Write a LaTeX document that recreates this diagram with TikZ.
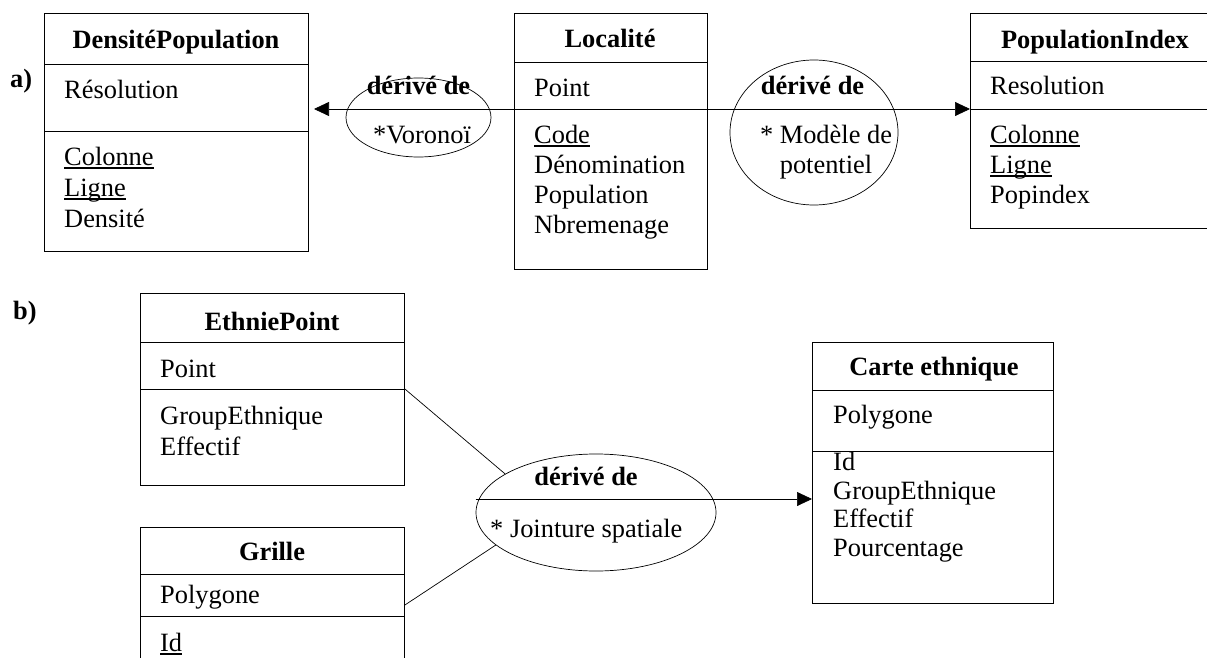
\documentclass[tikz,border=0pt]{standalone}
\usepackage{fontspec}
\setmainfont{Liberation Serif}
\usetikzlibrary{arrows.meta,shapes.geometric}

\newlength{\clewd}
\newcommand{\cle}[1]{\settowidth{\clewd}{#1}\rlap{\rule[-3.5pt]{\clewd}{1.1pt}}#1}

\tikzset{
  classe/.style={draw, line width=0.9pt, rectangle, inner sep=0pt, anchor=north west},
  titre/.style={font=\fontsize{26.4}{30}\selectfont\bfseries, anchor=base, inner sep=0pt},
  attr/.style={anchor=base west, inner sep=0pt, align=left},
  derive/.style={draw, ellipse, line width=0.7pt, inner sep=0pt},
  fleche/.style={-{Triangle[length=15pt,width=14pt]}, line width=0.7pt},
  lien/.style={line width=0.7pt}
}

\begin{document}
\begin{tikzpicture}[x=1pt, y=-1pt, font=\fontsize{26.4}{30}\selectfont]
  \useasboundingbox (0,0) rectangle (1207,658);
  \clip (0,0) rectangle (1207,658);

  % a) derivation from Localite (multi-line nodes sit on their last baseline)
  \node[titre, anchor=base west] (la) at (10,88) {a)};

  \node[classe, minimum width=264pt, minimum height=238pt] (dens) at (44,13) {};
  \draw[lien] ([yshift=-51pt]dens.north west) -- ([yshift=-51pt]dens.north east);
  \draw[lien] ([yshift=-118pt]dens.north west) -- ([yshift=-118pt]dens.north east);
  \node[titre] (dens-t) at (176,49) {DensitéPopulation};
  \node[attr] (dens-a) at (64,99) {Résolution};
  \node[attr, font=\fontsize{26.4}{31}\selectfont] (dens-b) at (64,227) {\cle{Colonne}\\\cle{Ligne}\\Densité};

  \node[classe, minimum width=193pt, minimum height=256pt] (loc) at (514,13) {};
  \draw[lien] ([yshift=-49pt]loc.north west) -- ([yshift=-49pt]loc.north east);
  \draw[lien] ([yshift=-96pt]loc.north west) -- ([yshift=-96pt]loc.north east);
  \node[titre] (loc-t) at (610,48) {Localité};
  \node[attr] (loc-a) at (534,97) {Point};
  \node[attr] (loc-b) at (534,233) {\cle{Code}\\Dénomination\\Population\\Nbremenage};

  \node[classe, minimum width=250pt, minimum height=215pt] (popi) at (970,13) {};
  \draw[lien] ([yshift=-48pt]popi.north west) -- ([yshift=-48pt]popi.north east);
  \draw[lien] ([yshift=-96pt]popi.north west) -- ([yshift=-96pt]popi.north east);
  \node[titre] (popi-t) at (1095,49) {PopulationIndex};
  \node[attr] (popi-a) at (990,95) {Resolution};
  \node[attr] (popi-b) at (990,203) {\cle{Colonne}\\\cle{Ligne}\\Popindex};

  \node[derive, minimum width=145pt, minimum height=79pt] (vor) at (418.5,117.5) {};
  \node[titre] (vor-t) at (418.5,95) {dérivé de};
  \node[anchor=base, inner sep=0pt] (vor-m) at (422,143) {*Voronoï};

  \node[derive, minimum width=168pt, minimum height=145pt] (pot) at (814,132.5) {};
  \node[titre] (pot-t) at (812.5,95) {dérivé de};
  \node[anchor=base, inner sep=0pt, align=center] (pot-m) at (826,173) {* Modèle de\\potentiel};

  \coordinate (dens-in) at (314,109);
  \draw[fleche] ([yshift=-96pt]loc.north west) -- (dens-in);
  \draw[fleche] ([yshift=-96pt]loc.north east) -- ([yshift=-96pt]popi.north west);

  % b) spatial join
  \node[titre, anchor=base west] (lb) at (13,319) {b)};

  \node[classe, minimum width=264pt, minimum height=192pt] (ethp) at (140,293) {};
  \draw[lien] ([yshift=-49pt]ethp.north west) -- ([yshift=-49pt]ethp.north east);
  \draw[lien] ([yshift=-96pt]ethp.north west) -- ([yshift=-96pt]ethp.north east);
  \node[titre] (ethp-t) at (272,330) {EthniePoint};
  \node[attr] (ethp-a) at (160,377) {Point};
  \node[attr, font=\fontsize{26.4}{31}\selectfont] (ethp-b) at (160,455) {GroupEthnique\\Effectif};

  \node[classe, minimum width=264pt, minimum height=160pt] (grille) at (140,527) {};
  \draw[lien] ([yshift=-47pt]grille.north west) -- ([yshift=-47pt]grille.north east);
  \draw[lien] ([yshift=-89pt]grille.north west) -- ([yshift=-89pt]grille.north east);
  \node[titre] (grille-t) at (272,560) {Grille};
  \node[attr] (grille-a) at (160,603) {Polygone};
  \node[attr] (grille-b) at (160,651) {\cle{Id}};

  \node[classe, minimum width=241pt, minimum height=261pt] (carte) at (812,342) {};
  \draw[lien] ([yshift=-48pt]carte.north west) -- ([yshift=-48pt]carte.north east);
  \draw[lien] ([yshift=-109pt]carte.north west) -- ([yshift=-109pt]carte.north east);
  \node[titre] (carte-t) at (934,375) {Carte ethnique};
  \node[attr] (carte-a) at (833,423) {Polygone};
  \node[attr, font=\fontsize{26.4}{28.5}\selectfont] (carte-b) at (833,556) {Id\\GroupEthnique\\Effectif\\Pourcentage};

  \node[derive, minimum width=240pt, minimum height=117pt] (joint) at (596,512.5) {};
  \node[titre] (joint-t) at (586,485) {dérivé de};
  \node[anchor=base west, inner sep=0pt] (joint-m) at (490,537) {* Jointure spatiale};

  \coordinate (carte-in) at (812,499);
  \draw[lien] ([yshift=-96pt]ethp.north east) -- (joint.157);
  \draw[lien] ([yshift=-78pt]grille.north east) -- (joint.198);
  \draw[fleche] (joint.west |- carte-in) -- (carte-in);
\end{tikzpicture}
\end{document}
